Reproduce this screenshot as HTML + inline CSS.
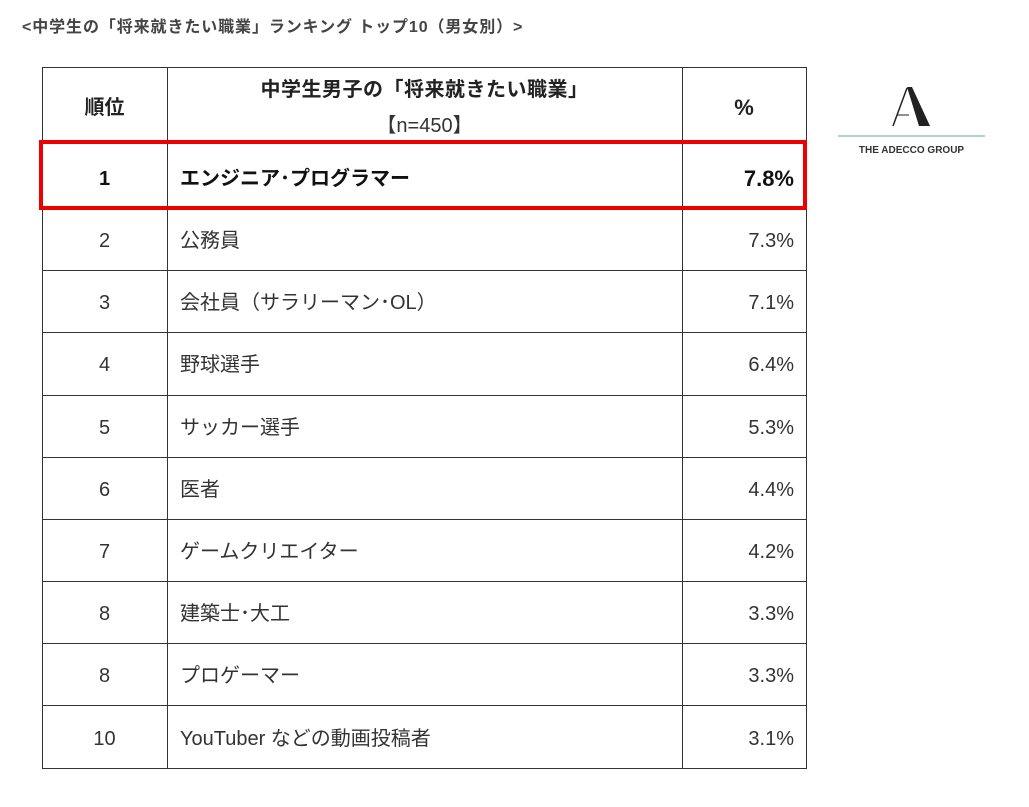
<!DOCTYPE html>
<html><head><meta charset="utf-8"><style>
body{margin:0;width:1029px;height:807px;background:#fff;position:relative;overflow:hidden;font-family:"Liberation Sans","Noto Sans CJK JP",sans-serif;}
.a{position:absolute;}
.h{position:absolute;height:1px;background:#333;left:42px;width:765px;}
.v{position:absolute;width:1px;background:#333;top:67px;height:702px;}
.t{position:absolute;font-size:20px;color:#333;line-height:24px;}
.c1{left:42px;width:125px;text-align:center;}
.c2{left:180px;}
.c3{left:682px;width:112px;text-align:right;}
</style></head><body>
<div class="a" style="left:22px;top:13px;font-size:16px;letter-spacing:0.9px;font-weight:bold;color:#444;">&lt;中学生の「将来就きたい職業」ランキング トップ10（男女別）&gt;</div>
<div class="h" style="top:67px"></div>
<div class="h" style="top:142px"></div>
<div class="h" style="top:209px"></div>
<div class="h" style="top:270px"></div>
<div class="h" style="top:332px"></div>
<div class="h" style="top:395px"></div>
<div class="h" style="top:457px"></div>
<div class="h" style="top:519px"></div>
<div class="h" style="top:581px"></div>
<div class="h" style="top:643px"></div>
<div class="h" style="top:705px"></div>
<div class="h" style="top:768px"></div>
<div class="v" style="left:42px"></div>
<div class="v" style="left:167px"></div>
<div class="v" style="left:682px"></div>
<div class="v" style="left:806px"></div>
<div class="a" style="left:39px;top:140px;width:760px;height:62px;border:4px solid #e00;"></div>
<div class="t c1" style="top:96px;font-weight:bold;color:#222">順位</div>
<div class="t" style="left:167px;width:515px;text-align:center;top:78px;font-weight:bold;color:#222;letter-spacing:0.5px">中学生男子の「将来就きたい職業」</div>
<div class="t" style="left:167px;width:515px;text-align:center;top:114px;">【n=450】</div>
<div class="t" style="left:682px;width:124px;text-align:center;top:96px;font-size:22px;font-weight:bold;color:#222">%</div>
<div class="t c1" style="top:167px;font-weight:bold;color:#111">1</div>
<div class="t c2" style="top:167px;font-weight:bold;color:#111">エンジニア･プログラマー</div>
<div class="t c3" style="top:167px;font-size:22px;font-weight:bold;color:#111">7.8%</div>
<div class="t c1" style="top:229px">2</div><div class="t c2" style="top:229px">公務員</div><div class="t c3" style="top:229px">7.3%</div>
<div class="t c1" style="top:291px">3</div><div class="t c2" style="top:291px">会社員（サラリーマン･OL）</div><div class="t c3" style="top:291px">7.1%</div>
<div class="t c1" style="top:353px">4</div><div class="t c2" style="top:353px">野球選手</div><div class="t c3" style="top:353px">6.4%</div>
<div class="t c1" style="top:416px">5</div><div class="t c2" style="top:416px">サッカー選手</div><div class="t c3" style="top:416px">5.3%</div>
<div class="t c1" style="top:478px">6</div><div class="t c2" style="top:478px">医者</div><div class="t c3" style="top:478px">4.4%</div>
<div class="t c1" style="top:540px">7</div><div class="t c2" style="top:540px">ゲームクリエイター</div><div class="t c3" style="top:540px">4.2%</div>
<div class="t c1" style="top:602px">8</div><div class="t c2" style="top:602px">建築士･大工</div><div class="t c3" style="top:602px">3.3%</div>
<div class="t c1" style="top:664px">8</div><div class="t c2" style="top:664px">プロゲーマー</div><div class="t c3" style="top:664px">3.3%</div>
<div class="t c1" style="top:727px">10</div><div class="t c2" style="top:727px">YouTuber などの動画投稿者</div><div class="t c3" style="top:727px">3.1%</div>
<svg class="a" style="left:885px;top:85px" width="50" height="44"><polygon points="22,2 27,2 45,41 34,41" fill="#222"/><line x1="22" y1="3" x2="8" y2="41" stroke="#222" stroke-width="1.5"/><line x1="12" y1="30" x2="24" y2="30" stroke="#222" stroke-width="1"/></svg>
<div class="a" style="left:838px;top:135px;width:147px;height:2px;background:#a9d3d6"></div>
<div class="a" style="left:838px;top:145px;width:147px;text-align:center;font-size:10px;font-weight:bold;color:#333;">THE ADECCO GROUP</div>
</body></html>
